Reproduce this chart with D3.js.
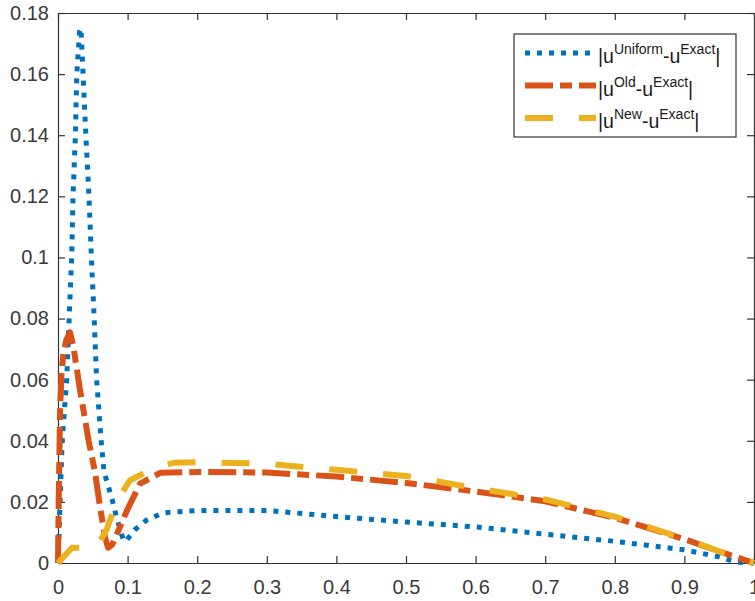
<!DOCTYPE html>
<html>
<head>
<meta charset="utf-8">
<script src="https://cdn.jsdelivr.net/npm/d3@7"></script>
<style>
    body { margin: 0; background: #fff; }
    svg { display: block; font-family: Arial, "Liberation Sans", sans-serif; }
    .axis path, .axis line { stroke: #333; stroke-width: 1.2; }
    .axis text { fill: #3a3a3a; font-size: 20px; }
</style>
</head>
<body>
<div id="chart"></div>
<script>
// tick values and labels
const xTicks = [0, 0.1, 0.2, 0.3, 0.4, 0.5, 0.6, 0.7, 0.8, 0.9, 1];
const xTickLabels = ["0", "0.1", "0.2", "0.3", "0.4", "0.5", "0.6", "0.7", "0.8", "0.9", "1"];
const yTicks = [0, 0.02, 0.04, 0.06, 0.08, 0.1, 0.12, 0.14, 0.16, 0.18];
const yTickLabels = ["0", "0.02", "0.04", "0.06", "0.08", "0.1", "0.12", "0.14", "0.16", "0.18"];

// |u^Uniform - u^Exact|
const xUniform = [0, 0.003, 0.006, 0.0125, 0.016, 0.0197, 0.0216, 0.025, 0.027, 0.031, 0.033, 0.036, 0.040, 0.0445,
    0.048, 0.052, 0.0555, 0.062, 0.066, 0.075, 0.079, 0.084, 0.094, 0.097, 0.11, 0.127, 0.151, 0.175, 0.2, 0.3,
    0.4, 0.5, 0.6, 0.7, 0.8, 0.9, 0.95, 0.975, 1];
const yUniform = [0, 0.02, 0.04, 0.06, 0.08, 0.10, 0.12, 0.14, 0.16, 0.174, 0.175, 0.16, 0.14, 0.12,
    0.10, 0.08, 0.06, 0.04, 0.03, 0.023, 0.0197, 0.015, 0.0075, 0.007, 0.0108, 0.014, 0.0164, 0.0168, 0.0172, 0.0172,
    0.0152, 0.0134, 0.0118, 0.0094, 0.0071, 0.0043, 0.002, 0.0003, 0];

// |u^Old - u^Exact|
const xOld = [0, 0.001, 0.002, 0.003, 0.005, 0.008, 0.012, 0.0172, 0.022, 0.0316, 0.044, 0.053, 0.060, 0.0675,
    0.072, 0.078, 0.086, 0.0987, 0.118, 0.147, 0.2, 0.3, 0.4, 0.5, 0.6, 0.7, 0.8, 0.9, 0.95, 1];
const yOld = [0, 0.02, 0.035, 0.05, 0.062, 0.069, 0.073, 0.0755, 0.071, 0.0567, 0.040, 0.030, 0.019, 0.0085,
    0.005, 0.006, 0.0102, 0.017, 0.026, 0.0295, 0.0298, 0.0296, 0.0283, 0.0262, 0.0234, 0.0202, 0.0148, 0.0078, 0.0038, 0];

// |u^New - u^Exact|
const xNew = [0, 0.02, 0.055, 0.07, 0.084, 0.103, 0.137, 0.166, 0.2, 0.3, 0.4, 0.5, 0.6, 0.7, 0.8, 0.9, 0.95, 1];
const yNew = [0, 0.005, 0.005, 0.011, 0.02, 0.027, 0.031, 0.0328, 0.033, 0.0325, 0.0305, 0.0285, 0.0245, 0.0208,
    0.0152, 0.008, 0.0038, 0];

const series = [
    { name: "Uniform", xs: xUniform, ys: yUniform, color: "#0072BD", width: 5, dash: "5,7" },
    { name: "Old", xs: xOld, ys: yOld, color: "#D95319", width: 6, dash: "28,7,12,7" },
    { name: "New", xs: xNew, ys: yNew, color: "#EDB120", width: 6, dash: "28,26" }
];

function init() {
    var W = 755, H = 601;
    var margin = { left: 58, top: 13 };
    var width = 696, height = 550;

    var svg = d3.select("#chart").append("svg")
        .attr("width", W)
        .attr("height", H);

    var g = svg.append("g")
        .attr("transform", "translate(" + margin.left + "," + margin.top + ")");

    var x = d3.scaleLinear().domain([0, 1]).range([0, width]);
    var y = d3.scaleLinear().domain([0, 0.18]).range([height, 0]);

    // bottom axis with labels
    g.append("g")
        .attr("class", "axis")
        .attr("transform", "translate(0," + height + ")")
        .call(d3.axisBottom(x).tickValues(xTicks)
            .tickFormat((d, i) => xTickLabels[i])
            .tickSizeInner(-7).tickSizeOuter(0).tickPadding(17));

    // left axis with labels
    g.append("g")
        .attr("class", "axis")
        .call(d3.axisLeft(y).tickValues(yTicks)
            .tickFormat((d, i) => yTickLabels[i])
            .tickSizeInner(-7).tickSizeOuter(0).tickPadding(9));

    // top and right box lines
    g.append("g")
        .attr("class", "axis")
        .call(d3.axisTop(x).tickValues(xTicks).tickFormat("")
            .tickSizeInner(-7).tickSizeOuter(0));

    g.append("g")
        .attr("class", "axis")
        .attr("transform", "translate(" + width + ",0)")
        .call(d3.axisRight(y).tickValues(yTicks).tickFormat("")
            .tickSizeInner(-7).tickSizeOuter(0));

    var line = d3.line()
        .x(d => x(d[0]))
        .y(d => y(d[1]));

    series.forEach(s => {
        var pts = s.xs.map((v, i) => [v, s.ys[i]]);
        g.append("path")
            .datum(pts)
            .attr("fill", "none")
            .attr("stroke", s.color)
            .attr("stroke-width", s.width)
            .attr("stroke-dasharray", s.dash)
            .attr("stroke-linejoin", "round")
            .attr("d", line);
    });

    // legend
    var lg = svg.append("g").attr("transform", "translate(514,34)");
    lg.append("rect")
        .attr("width", 222)
        .attr("height", 103)
        .attr("fill", "#fff")
        .attr("stroke", "#333")
        .attr("stroke-width", 1.2);

    series.forEach((s, i) => {
        var cy = 19 + i * 32.5;
        lg.append("line")
            .attr("x1", 11).attr("x2", 82)
            .attr("y1", cy).attr("y2", cy)
            .attr("stroke", s.color)
            .attr("stroke-width", s.width)
            .attr("stroke-dasharray", s.dash);

        var t = lg.append("text")
            .attr("x", 84)
            .attr("y", cy + 10)
            .attr("font-size", 19.5)
            .attr("fill", "#1a1a1a");
        t.append("tspan").text("|u");
        t.append("tspan").attr("dy", -9).attr("font-size", 14).text(s.name);
        t.append("tspan").attr("dy", 9).text("-u");
        t.append("tspan").attr("dy", -9).attr("font-size", 14).text("Exact");
        t.append("tspan").attr("dy", 9).text("|");
    });
}

init();
</script>
</body>
</html>
